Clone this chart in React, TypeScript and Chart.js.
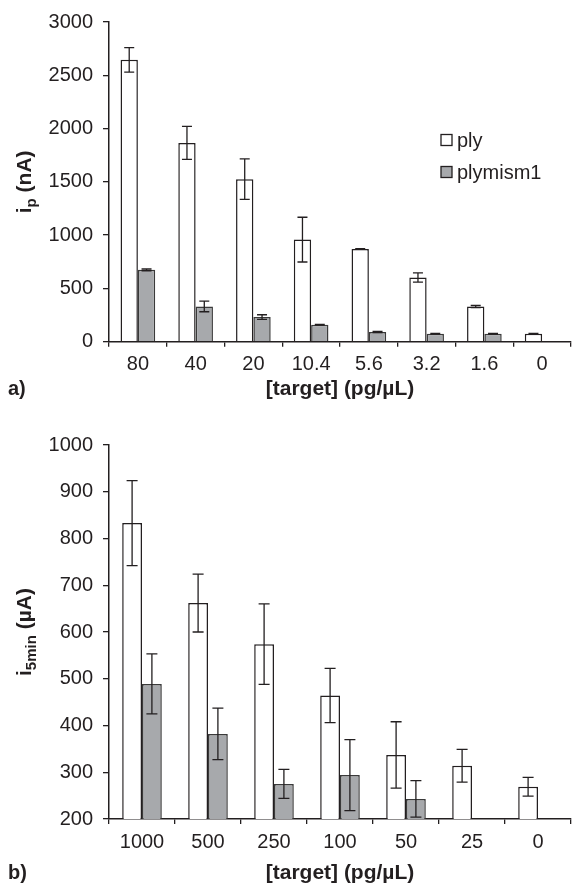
import React, { useEffect, useRef } from "react";
import { Chart, registerables } from "chart.js";
Chart.register(...registerables);

const FONT = "'Liberation Sans', Arial, Helvetica, sans-serif";
const INK = "#231f20";
const GRAY = "#a7a9ac";

// Panel a
const catsA = ["80", "40", "20", "10.4", "5.6", "3.2", "1.6", "0"];
const plyA = [2645, 1865, 1525, 958, 870, 602, 331, 75];
const plyErrA = [115, 155, 190, 210, 4, 43, 10, 3];
const mismA = [674, 331, 231, 159, 91, 75, 75, null];
const mismErrA = [8, 50, 22, 3, 6, 3, 3, 0];
const yMinA = 0;
const yMaxA = 3000;
const yStepA = 500;

// Panel b
const catsB = ["1000", "500", "250", "100", "50", "25", "0"];
const plyB = [833, 662, 574, 464, 337, 314, 269];
const plyErrB = [91, 62, 86, 58, 71, 35, 20];
const mismB = [489, 382, 275, 294, 243, null, null];
const mismErrB = [64, 55, 31, 76, 39, 0, 0];
const yMinB = 200;
const yMaxB = 1000;
const yStepB = 100;

const seriesNames = ["ply", "plymism1"];
const xTitle = "[target] (pg/\u00b5L)";

type Part = { t: string; sub?: boolean };

const errorBarPlugin = {
  id: "errorBars",
  afterDatasetsDraw(chart: any) {
    const ctx = chart.ctx;
    const yScale = chart.scales.y;
    const area = chart.chartArea;
    const capW = chart.options.plugins.errorBars?.cap ?? 10;
    ctx.save();
    ctx.strokeStyle = INK;
    ctx.lineWidth = 1.3;
    chart.data.datasets.forEach((ds: any, di: number) => {
      const meta = chart.getDatasetMeta(di);
      ds.data.forEach((v: number | null, i: number) => {
        if (v == null) return;
        const e = ds.errors[i];
        if (!e) return;
        const bar = meta.data[i];
        const x = bar.x;
        const yt = yScale.getPixelForValue(v + e);
        const yb = Math.min(yScale.getPixelForValue(v - e), area.bottom);
        ctx.beginPath();
        ctx.moveTo(x, yt);
        ctx.lineTo(x, yb);
        ctx.moveTo(x - capW / 2, yt);
        ctx.lineTo(x + capW / 2, yt);
        ctx.moveTo(x - capW / 2, yb);
        ctx.lineTo(x + capW / 2, yb);
        ctx.stroke();
      });
    });
    ctx.restore();
  },
};

const decorPlugin = {
  id: "decor",
  afterDraw(chart: any) {
    const opts = chart.options.plugins.decor;
    const ctx = chart.ctx;
    const area = chart.chartArea;
    ctx.save();
    ctx.fillStyle = INK;
    // rotated y title with subscript
    const parts: Part[] = opts.yTitle;
    const big = "bold 21px " + FONT;
    const small = "bold 15px " + FONT;
    let total = 0;
    const widths = parts.map((p) => {
      ctx.font = p.sub ? small : big;
      const w = ctx.measureText(p.t).width;
      total += w;
      return w;
    });
    ctx.translate(opts.yTitleX, (area.top + area.bottom) / 2);
    ctx.rotate(-Math.PI / 2);
    ctx.textBaseline = "alphabetic";
    ctx.textAlign = "left";
    let cx = -total / 2;
    parts.forEach((p, i) => {
      ctx.font = p.sub ? small : big;
      ctx.fillText(p.t, cx, p.sub ? 12 : 7);
      cx += widths[i];
    });
    ctx.setTransform(1, 0, 0, 1, 0, 0);
    // panel label
    ctx.font = "bold 20px " + FONT;
    ctx.textAlign = "left";
    ctx.textBaseline = "middle";
    ctx.fillText(opts.panel, 8, opts.panelY);
    // legend
    if (opts.legend) {
      const lg = opts.legend;
      chart.data.datasets.forEach((ds: any, di: number) => {
        const y = lg.y + di * lg.gap;
        ctx.fillStyle = ds.backgroundColor;
        ctx.fillRect(lg.x, y - 5.5, 11, 11);
        ctx.strokeStyle = INK;
        ctx.lineWidth = 1.3;
        ctx.strokeRect(lg.x, y - 5.5, 11, 11);
        ctx.fillStyle = INK;
        ctx.font = "20px " + FONT;
        ctx.textBaseline = "middle";
        ctx.fillText(ds.label, lg.x + 16, y + 1);
      });
    }
    ctx.restore();
  },
};

function makeConfig(
  cats: string[],
  ply: (number | null)[],
  plyErr: number[],
  mism: (number | null)[],
  mismErr: number[],
  yMin: number,
  yMax: number,
  yStep: number,
  padTop: number,
  xHeight: number,
  titlePadBottom: number,
  cap: number,
  decor: any
): any {
  return {
    type: "bar",
    data: {
      labels: cats,
      datasets: [
        {
          label: seriesNames[0],
          data: ply,
          errors: plyErr,
          backgroundColor: "#ffffff",
          borderColor: INK,
          borderWidth: 1.5,
          borderSkipped: "start",
          categoryPercentage: 0.6,
          barPercentage: 1,
        },
        {
          label: seriesNames[1],
          data: mism,
          errors: mismErr,
          backgroundColor: GRAY,
          borderColor: "#3a3a3a",
          borderWidth: 1.5,
          borderSkipped: "start",
          categoryPercentage: 0.6,
          barPercentage: 1,
        },
      ],
    },
    options: {
      responsive: false,
      animation: false,
      layout: { padding: { top: padTop, right: 1, left: 0, bottom: 0 } },
      plugins: {
        legend: { display: false },
        tooltip: { enabled: false },
        errorBars: { cap },
        decor,
      },
      scales: {
        x: {
          afterFit: (s: any) => {
            s.height = xHeight;
          },
          grid: {
            display: true,
            drawOnChartArea: false,
            drawTicks: true,
            tickLength: 5,
            color: INK,
            lineWidth: 1.3,
          },
          border: { display: true, color: INK, width: 1.5 },
          ticks: {
            color: INK,
            font: { family: FONT, size: 20 },
            padding: 6,
          },
          title: {
            display: true,
            text: xTitle,
            color: INK,
            font: { family: FONT, size: 21, weight: "bold", lineHeight: 1 },
            padding: { top: 0, bottom: titlePadBottom },
          },
        },
        y: {
          min: yMin,
          max: yMax,
          afterFit: (s: any) => {
            s.width = 109;
          },
          grid: {
            display: true,
            drawOnChartArea: false,
            drawTicks: true,
            tickLength: 6,
            color: INK,
            lineWidth: 1.3,
          },
          border: { display: true, color: INK, width: 1.5 },
          ticks: {
            stepSize: yStep,
            color: INK,
            font: { family: FONT, size: 20 },
            padding: 10,
            callback: (v: any) => String(v),
          },
        },
      },
    },
    plugins: [errorBarPlugin, decorPlugin],
  };
}

function Panel(props: { config: any; top: number; height: number }) {
  const ref = useRef<HTMLCanvasElement>(null);
  useEffect(() => {
    const chart = new Chart(ref.current as HTMLCanvasElement, props.config);
    return () => chart.destroy();
  }, []);
  return (
    <canvas
      ref={ref}
      width={572}
      height={props.height}
      style={{ position: "absolute", left: 0, top: props.top, width: 572, height: props.height }}
    />
  );
}

export default function App() {
  const cfgA = makeConfig(
    catsA, plyA, plyErrA, mismA, mismErrA, yMinA, yMaxA, yStepA,
    21, 410 - 341.7, 10.5, 10,
    {
      yTitle: [{ t: "i" }, { t: "p", sub: true }, { t: " (nA)" }],
      yTitleX: 24,
      panel: "a)",
      panelY: 389,
      legend: { x: 441, y: 140, gap: 32 },
    }
  );
  const cfgB = makeConfig(
    catsB, plyB, plyErrB, mismB, mismErrB, yMinB, yMaxB, yStepB,
    35, 474 - 409, 0, 11,
    {
      yTitle: [{ t: "i" }, { t: "5min", sub: true }, { t: " (\u00b5A)" }],
      yTitleX: 24,
      panel: "b)",
      panelY: 463,
    }
  );
  return (
    <div style={{ position: "absolute", left: 0, top: 0, width: 572, height: 884, background: "#fff", overflow: "hidden" }}>
      <Panel config={cfgA} top={0} height={410} />
      <Panel config={cfgB} top={410} height={474} />
    </div>
  );
}
